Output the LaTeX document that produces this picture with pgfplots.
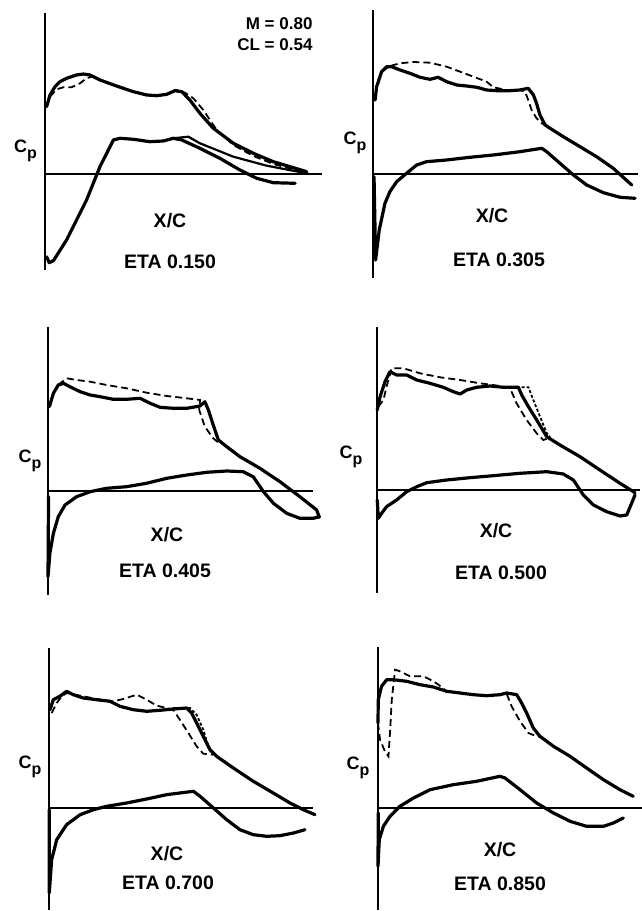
\documentclass[border=0pt]{standalone}
\usepackage{fontspec}
\setmainfont{Liberation Sans}
\usepackage{pgfplots}
\pgfplotsset{compat=1.18}
\pgfplotsset{
 panel/.style={axis x line=middle, axis y line=left, axis line style={-},
   x axis line style={line width=1.5pt}, y axis line style={line width=2.4pt},
   xtick=\empty, ytick=\empty, clip=false, anchor=south west, xmin=0, y=100pt},
 sol/.style={black, line width=3.2pt, line join=round, line cap=round, no marks},
 thn/.style={black, line width=2.2pt, line join=round, line cap=round, no marks},
 dsh/.style={black, line width=1.8pt, dash pattern=on 7pt off 4pt, no marks},
 sdsh/.style={black, line width=1.8pt, dash pattern=on 3pt off 2pt, no marks},
}
\newcommand\lab{\bfseries\fontsize{19.5}{21}\selectfont}
\newcommand\Cp{\bfseries\fontsize{18}{18}\selectfont C\raisebox{-6pt}{\fontsize{16}{16}\selectfont p}}
\begin{document}
\begin{tikzpicture}
\useasboundingbox (0,0) rectangle (642pt,911pt);
% ---------- Panel 1: ETA 0.150
\begin{axis}[panel, at={(45pt,641pt)}, x=263pt, xmax=1.053, ymin=-0.96, ymax=1.61]
\addplot[sol] coordinates {(0.006,0.673)(0.019,0.79)(0.038,0.873)(0.057,0.923)(0.082,0.957)(0.120,0.99)(0.146,1.0)(0.171,0.99)(0.209,0.94)(0.272,0.88)(0.336,0.823)(0.387,0.79)(0.425,0.783)(0.463,0.797)(0.494,0.833)(0.520,0.823)(0.551,0.74)(0.589,0.607)(0.640,0.457)(0.716,0.307)(0.792,0.207)(0.868,0.123)(0.932,0.073)(0.995,0.023)};
\addplot[dsh] coordinates {(0.019,0.773)(0.044,0.847)(0.070,0.867)(0.101,0.867)(0.133,0.907)(0.158,0.957)(0.184,0.98)(0.209,0.94)(0.272,0.88)(0.336,0.823)(0.387,0.79)(0.425,0.783)(0.463,0.797)(0.501,0.84)(0.532,0.813)(0.564,0.757)(0.602,0.64)(0.627,0.54)(0.653,0.44)(0.716,0.29)(0.792,0.18)(0.868,0.10)(0.944,0.047)(1.001,0.007)};
\addplot[sol] coordinates {(0.006,-0.827)(0.016,-0.887)(0.032,-0.867)(0.082,-0.66)(0.158,-0.26)(0.209,0.073)(0.260,0.34)(0.285,0.357)(0.336,0.347)(0.399,0.323)(0.450,0.33)(0.488,0.357)(0.520,0.34)(0.589,0.257)(0.665,0.157)(0.741,0.04)(0.805,-0.043)(0.868,-0.087)(0.951,-0.093)};
\addplot[thn] coordinates {(0.488,0.357)(0.545,0.373)(0.589,0.307)(0.716,0.173)(0.843,0.083)(0.995,0.007)};
\end{axis}
% ---------- Panel 2: ETA 0.305
\begin{axis}[panel, at={(373pt,633pt)}, x=260pt, xmax=1.019, ymin=-1.04, ymax=1.64]
\addplot[sol] coordinates {(0.008,0.74)(0.014,0.873)(0.033,1.023)(0.053,1.073)(0.072,1.073)(0.104,1.04)(0.142,1.007)(0.181,0.967)(0.219,0.947)(0.251,0.967)(0.283,0.923)(0.322,0.89)(0.360,0.88)(0.399,0.867)(0.437,0.84)(0.476,0.833)(0.527,0.833)(0.565,0.84)(0.597,0.857)(0.617,0.79)(0.629,0.707)(0.642,0.59)(0.662,0.49)(0.681,0.457)(0.732,0.373)(0.796,0.273)(0.860,0.173)(0.924,0.057)(0.995,-0.11)};
\addplot[dsh] coordinates {(0.033,1.023)(0.065,1.08)(0.104,1.107)(0.155,1.12)(0.219,1.113)(0.283,1.073)(0.335,1.023)(0.386,0.973)(0.437,0.923)(0.463,0.867)(0.527,0.833)(0.565,0.84)(0.585,0.823)(0.597,0.74)(0.610,0.64)(0.629,0.557)(0.649,0.507)(0.681,0.457)};
\addplot[sol] coordinates {(0.004,-0.027)(0.010,-0.86)(0.024,-0.56)(0.046,-0.293)(0.065,-0.177)(0.091,-0.077)(0.129,0.007)(0.168,0.09)(0.206,0.123)(0.283,0.14)(0.373,0.167)(0.463,0.19)(0.565,0.223)(0.649,0.257)(0.668,0.223)(0.719,0.107)(0.771,-0.01)(0.822,-0.11)(0.886,-0.187)(0.950,-0.233)(1.008,-0.243)};
\end{axis}
% ---------- Panel 3: ETA 0.405
\begin{axis}[panel, at={(48pt,316pt)}, x=270pt, xmax=0.981, ymin=-1.04, ymax=1.64]
\addplot[sol] coordinates {(0.005,0.843)(0.020,0.977)(0.038,1.06)(0.057,1.077)(0.081,1.043)(0.119,0.993)(0.156,0.96)(0.193,0.943)(0.242,0.917)(0.291,0.917)(0.341,0.927)(0.378,0.877)(0.415,0.837)(0.464,0.827)(0.514,0.827)(0.563,0.85)(0.581,0.893)(0.594,0.81)(0.612,0.66)(0.631,0.51)(0.662,0.443)(0.711,0.343)(0.785,0.227)(0.859,0.093)(0.933,-0.057)(0.995,-0.19)(1.005,-0.263)};
\addplot[dsh] coordinates {(0.038,1.06)(0.069,1.127)(0.106,1.11)(0.156,1.093)(0.217,1.06)(0.291,1.027)(0.365,0.983)(0.440,0.95)(0.514,0.927)(0.563,0.91)(0.560,0.81)(0.581,0.643)(0.612,0.527)(0.637,0.47)};
\addplot[sol] coordinates {(0.002,-0.057)(0.0,-0.857)(0.007,-0.623)(0.020,-0.423)(0.038,-0.257)(0.063,-0.14)(0.106,-0.057)(0.156,-0.007)(0.217,0.027)(0.291,0.043)(0.365,0.077)(0.440,0.127)(0.514,0.16)(0.588,0.187)(0.662,0.2)(0.723,0.193)(0.760,0.143)(0.798,-0.007)(0.835,-0.123)(0.884,-0.223)(0.933,-0.273)(0.983,-0.273)(1.005,-0.257)};
\end{axis}
% ---------- Panel 4: ETA 0.500
\begin{axis}[panel, at={(377pt,318pt)}, x=258pt, xmax=1.019, ymin=-1.03, ymax=1.63]
\addplot[sol] coordinates {(0.001,0.8)(0.012,0.933)(0.031,1.083)(0.050,1.183)(0.076,1.15)(0.115,1.15)(0.154,1.1)(0.205,1.067)(0.257,1.027)(0.296,0.983)(0.322,0.96)(0.348,1.0)(0.386,1.027)(0.438,1.04)(0.490,1.027)(0.548,1.027)(0.561,0.95)(0.587,0.833)(0.619,0.7)(0.658,0.533)(0.709,0.45)(0.787,0.333)(0.864,0.2)(0.942,0.067)(1.0,-0.027)};
\addplot[dsh] coordinates {(0.005,0.833)(0.025,0.9)(0.037,1.033)(0.057,1.217)(0.102,1.217)(0.167,1.167)(0.244,1.127)(0.322,1.1)(0.399,1.067)(0.477,1.04)(0.516,1.017)(0.541,0.867)(0.580,0.7)(0.619,0.567)(0.645,0.5)(0.664,0.517)};
\addplot[sdsh] coordinates {(0.541,1.027)(0.587,1.027)(0.606,0.9)(0.632,0.733)(0.658,0.567)(0.671,0.533)};
\addplot[sol] coordinates {(0.001,-0.1)(0.005,-0.283)(0.018,-0.233)(0.037,-0.167)(0.076,-0.1)(0.115,-0.017)(0.154,0.033)(0.193,0.073)(0.270,0.1)(0.360,0.123)(0.451,0.143)(0.554,0.167)(0.658,0.183)(0.722,0.16)(0.761,0.1)(0.800,-0.05)(0.839,-0.15)(0.890,-0.217)(0.942,-0.26)(0.968,-0.25)(1.0,-0.05)};
\end{axis}
% ---------- Panel 5: ETA 0.700
\begin{axis}[panel, at={(49pt,1pt)}, x=266pt, xmax=0.992, ymin=-1.02, ymax=1.60]
\addplot[sol] coordinates {(0.004,0.983)(0.016,1.083)(0.041,1.117)(0.066,1.167)(0.091,1.133)(0.129,1.1)(0.179,1.083)(0.229,1.067)(0.267,1.017)(0.317,0.983)(0.367,0.967)(0.417,0.977)(0.467,0.99)(0.518,1.0)(0.536,0.95)(0.555,0.85)(0.580,0.717)(0.605,0.583)(0.630,0.517)(0.693,0.4)(0.768,0.267)(0.843,0.15)(0.906,0.05)(0.956,-0.017)(1.0,-0.067)};
\addplot[dsh] coordinates {(0.010,0.95)(0.029,1.05)(0.048,1.117)(0.066,1.15)(0.129,1.117)(0.192,1.083)(0.242,1.067)(0.279,1.09)(0.330,1.133)(0.367,1.083)(0.405,1.023)(0.442,1.0)(0.467,0.983)(0.492,0.883)(0.524,0.75)(0.555,0.617)(0.580,0.543)(0.618,0.533)};
\addplot[sdsh] coordinates {(0.467,1.0)(0.530,1.0)(0.555,0.933)(0.580,0.783)(0.599,0.617)(0.618,0.543)};
\addplot[sol] coordinates {(0.001,-0.017)(0.001,-0.85)(0.010,-0.517)(0.029,-0.317)(0.066,-0.167)(0.117,-0.067)(0.167,-0.017)(0.217,0.017)(0.292,0.05)(0.367,0.09)(0.442,0.133)(0.492,0.15)(0.543,0.167)(0.568,0.117)(0.618,0.0)(0.668,-0.117)(0.718,-0.217)(0.768,-0.267)(0.818,-0.283)(0.868,-0.277)(0.919,-0.25)(0.962,-0.217)};
\end{axis}
% ---------- Panel 6: ETA 0.850
\begin{axis}[panel, at={(378pt,1pt)}, x=255pt, xmax=1.035, ymin=-1.02, ymax=1.61]
\addplot[sol] coordinates {(0.0,0.85)(0.001,1.083)(0.014,1.217)(0.034,1.283)(0.060,1.283)(0.112,1.267)(0.165,1.233)(0.217,1.21)(0.269,1.167)(0.322,1.15)(0.374,1.133)(0.426,1.123)(0.478,1.133)(0.505,1.15)(0.544,1.133)(0.563,1.05)(0.583,0.95)(0.609,0.8)(0.635,0.717)(0.688,0.617)(0.753,0.517)(0.818,0.4)(0.884,0.283)(0.949,0.183)(1.001,0.117)};
\addplot[dsh] coordinates {(0.0,0.85)(0.008,0.683)(0.027,0.567)(0.041,0.517)(0.047,0.75)(0.054,1.083)(0.067,1.383)(0.086,1.367)(0.125,1.317)(0.178,1.317)(0.217,1.267)(0.237,1.233)(0.269,1.167)};
\addplot[dsh] coordinates {(0.505,1.14)(0.524,1.017)(0.557,0.867)(0.590,0.75)(0.622,0.717)(0.642,0.71)};
\addplot[sol] coordinates {(0.001,-0.05)(0.0,-0.583)(0.005,-0.317)(0.021,-0.183)(0.047,-0.083)(0.086,0.017)(0.139,0.1)(0.204,0.183)(0.295,0.233)(0.387,0.267)(0.478,0.317)(0.498,0.3)(0.557,0.183)(0.622,0.05)(0.688,-0.05)(0.753,-0.133)(0.818,-0.183)(0.884,-0.183)(0.923,-0.15)(0.962,-0.1)};
\end{axis}
% ---------- labels
\node[anchor=east, font=\bfseries\fontsize{17}{19}\selectfont] at (316pt,887pt) {M = 0.80};
\node[anchor=east, font=\bfseries\fontsize{17}{19}\selectfont] at (316pt,866pt) {CL = 0.54};
\node at (25.5pt,760pt) {\Cp};
\node at (355pt,768pt) {\Cp};
\node at (30pt,450pt) {\Cp};
\node at (351pt,454pt) {\Cp};
\node at (30pt,144pt) {\Cp};
\node at (358pt,143pt) {\Cp};
\node[font=\lab] at (170pt,690pt) {X/C};
\node[font=\lab] at (492pt,695pt) {X/C};
\node[font=\lab] at (167pt,376pt) {X/C};
\node[font=\lab] at (496pt,380pt) {X/C};
\node[font=\lab] at (167pt,57pt) {X/C};
\node[font=\lab] at (500pt,61pt) {X/C};
\node[font=\lab] at (170pt,649pt) {ETA 0.150};
\node[font=\lab] at (499pt,651pt) {ETA 0.305};
\node[font=\lab] at (165pt,340pt) {ETA 0.405};
\node[font=\lab] at (501pt,338pt) {ETA 0.500};
\node[font=\lab] at (168pt,28pt) {ETA 0.700};
\node[font=\lab] at (500pt,27.5pt) {ETA 0.850};
\end{tikzpicture}
\end{document}
